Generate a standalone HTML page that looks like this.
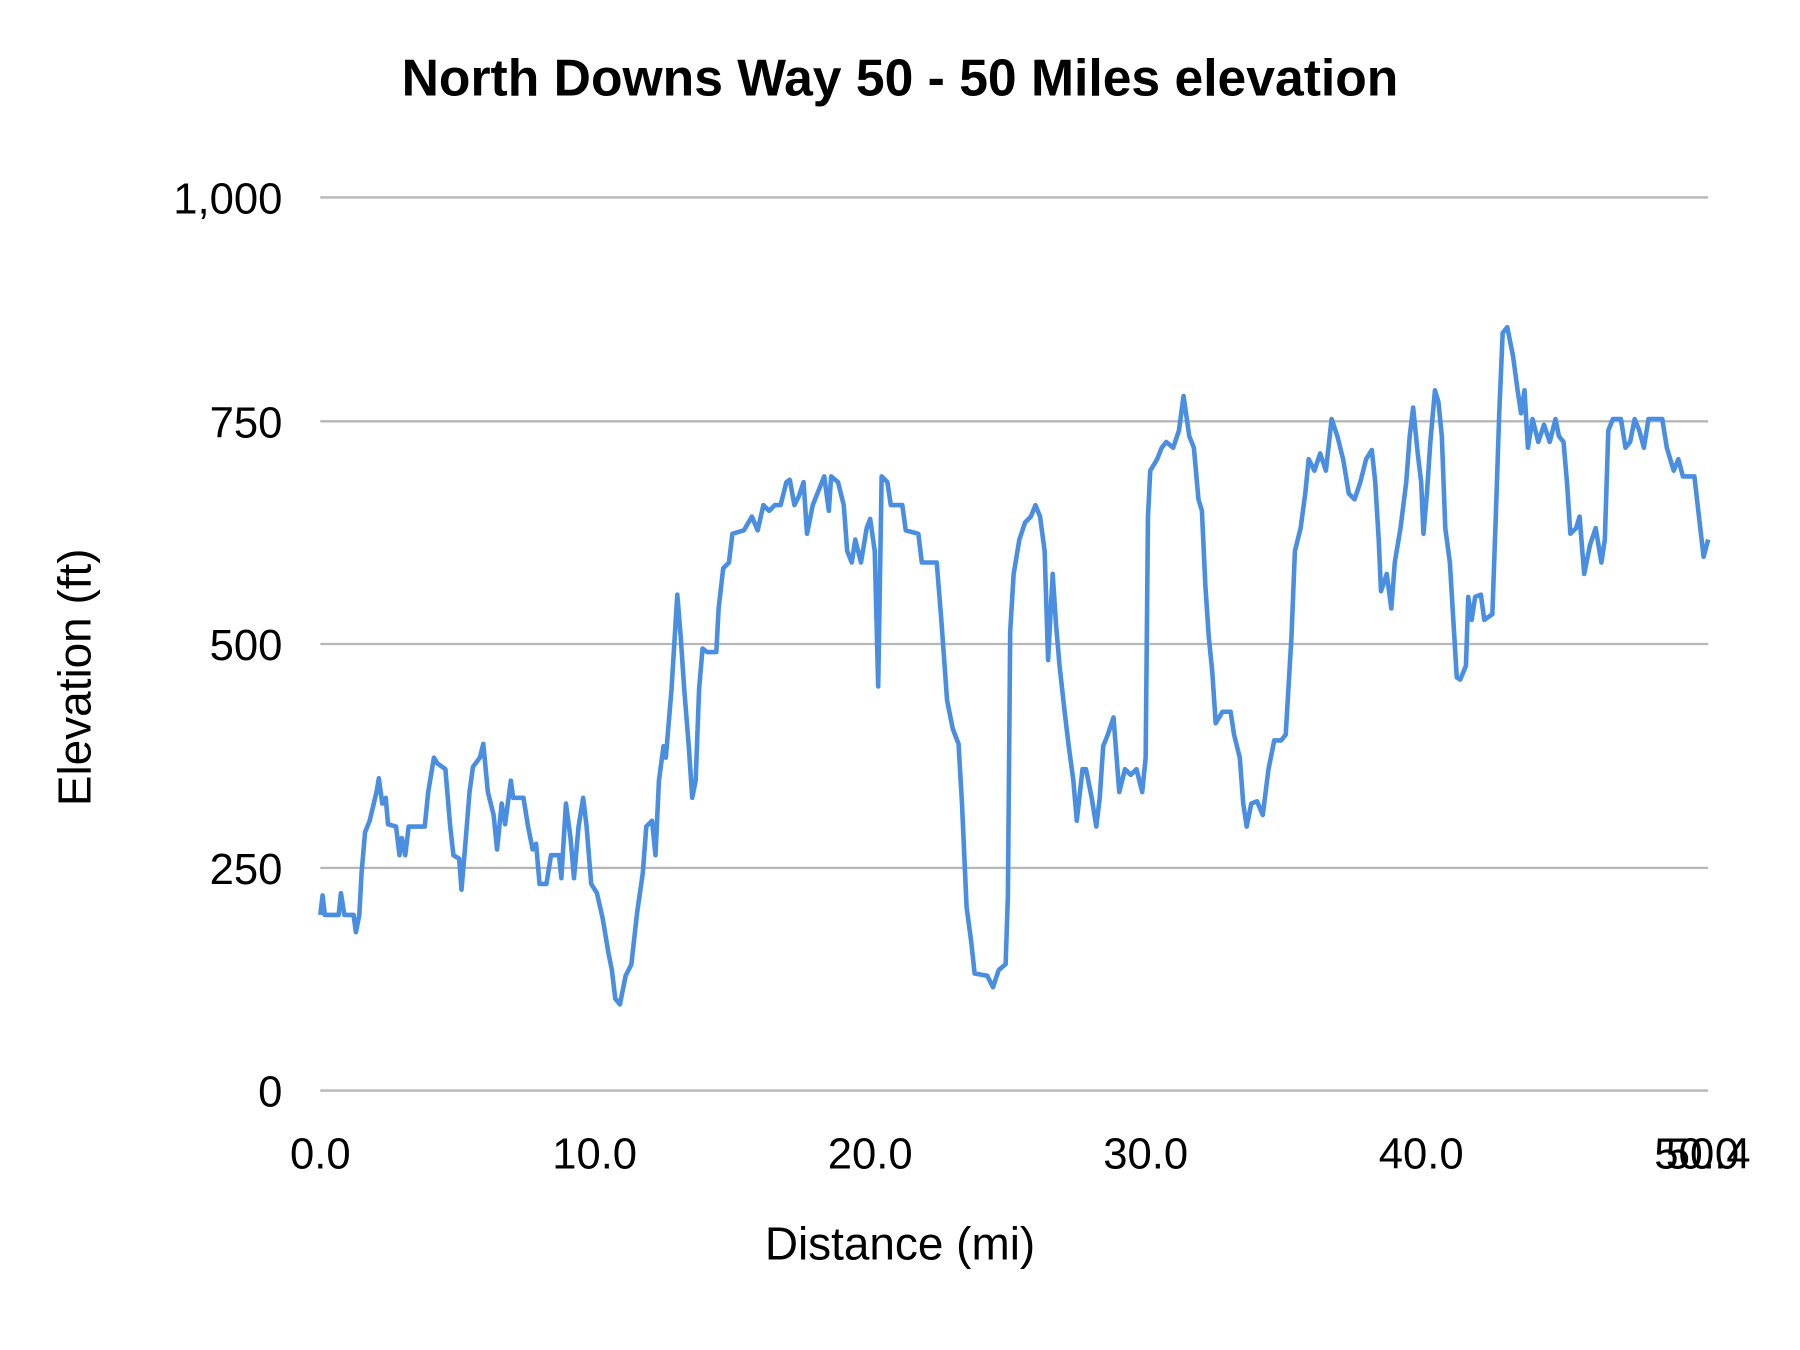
<!DOCTYPE html>
<html><head><meta charset="utf-8"><style>
html,body{margin:0;padding:0;background:#fff;}
svg{display:block;}
text{font-family:"Liberation Sans",sans-serif;fill:#000;}
</style></head><body>
<svg width="1800" height="1350" viewBox="0 0 1568 1176" xmlns="http://www.w3.org/2000/svg">
<rect width="1568" height="1176" fill="#fff"/>
<text x="784" y="83" text-anchor="middle" font-size="45" font-weight="bold">North Downs Way 50 - 50 Miles elevation</text>
<g stroke="#b7b7b7" stroke-width="2">
<line x1="279" y1="172" x2="1488" y2="172"/>
<line x1="279" y1="367" x2="1488" y2="367"/>
<line x1="279" y1="561" x2="1488" y2="561"/>
<line x1="279" y1="756" x2="1488" y2="756"/>
<line x1="279" y1="950" x2="1488" y2="950"/>
</g>
<g font-size="38" text-anchor="end">
<text x="246" y="186">1,000</text>
<text x="246" y="381">750</text>
<text x="246" y="575">500</text>
<text x="246" y="770">250</text>
<text x="246" y="964">0</text>
</g>
<g font-size="38" text-anchor="middle">
<text x="279" y="1018">0.0</text>
<text x="518" y="1018">10.0</text>
<text x="758" y="1018">20.0</text>
<text x="998" y="1018">30.0</text>
<text x="1238" y="1018">40.0</text>
<text x="1478" y="1018">50.0</text>
<text x="1488" y="1018">50.4</text>
</g>
<text x="784" y="1097" text-anchor="middle" font-size="40">Distance (mi)</text>
<text transform="translate(79,590) rotate(-90)" text-anchor="middle" font-size="40">Elevation (ft)</text>
<polyline fill="none" stroke="#4a8ee2" stroke-width="4" stroke-linejoin="round" points="279,797 281,780 283,797 295,797 297,778 300,797 308,797 310,812 313,797 315,760 318,725 322,715 328,690 330,678 333,700 336,695 338,718 345,720 348,745 350,730 353,745 356,720 370,720 373,690 378,660 381,665 388,670 392,718 395,745 400,748 402,775 405,740 409,690 412,668 418,660 421,648 425,690 430,710 433,740 437,700 440,718 445,680 447,695 456,695 460,720 464,740 467,735 470,770 476,770 480,745 487,745 489,765 493,700 497,730 500,765 504,720 508,695 511,720 515,770 520,778 525,800 530,830 533,845 536,870 540,875 545,850 550,840 555,795 560,760 563,720 568,715 571,745 574,680 578,650 580,660 585,600 590,518 593,555 596,600 600,650 603,695 606,680 609,600 612,565 616,568 624,568 626,530 630,495 635,490 638,465 648,462 655,450 660,462 665,440 670,445 675,440 680,440 685,420 688,418 692,440 696,432 700,420 703,465 708,440 712,430 718,415 722,445 724,415 730,420 735,440 738,480 742,490 745,470 750,490 755,460 758,452 762,480 765,598 768,415 773,420 776,440 786,440 789,462 800,465 803,490 816,490 820,540 825,610 830,635 835,648 838,700 842,790 846,820 849,848 860,850 865,860 870,845 876,840 878,780 880,550 883,500 888,470 893,455 898,450 902,440 906,450 910,480 913,575 917,500 920,545 923,580 928,625 931,650 935,680 938,715 943,670 946,670 951,695 955,720 958,695 961,650 965,640 970,625 975,690 980,670 985,675 990,670 995,690 998,660 1000,450 1002,410 1008,400 1012,390 1016,385 1022,390 1027,375 1031,345 1036,380 1040,390 1044,435 1047,445 1050,510 1053,555 1056,585 1059,630 1065,620 1072,620 1075,640 1080,660 1083,700 1086,720 1090,700 1095,698 1100,710 1105,670 1110,645 1116,645 1120,640 1125,555 1128,480 1133,460 1137,430 1140,400 1145,410 1150,395 1155,410 1160,365 1165,380 1170,400 1175,430 1180,435 1185,420 1190,400 1195,392 1198,420 1201,470 1203,515 1208,500 1212,530 1215,490 1220,460 1225,420 1228,380 1231,355 1235,395 1238,420 1240,465 1243,430 1246,385 1250,340 1253,350 1256,380 1259,460 1263,490 1266,540 1269,590 1272,592 1277,580 1279,520 1282,540 1285,520 1290,518 1293,540 1300,535 1303,450 1306,360 1309,290 1313,285 1318,310 1322,340 1325,360 1328,340 1331,390 1335,365 1340,385 1345,370 1350,385 1355,365 1358,380 1362,385 1365,420 1368,465 1373,460 1376,450 1380,500 1385,475 1390,460 1395,490 1398,470 1401,375 1405,365 1412,365 1416,390 1420,385 1424,365 1428,375 1432,390 1436,365 1448,365 1452,390 1458,410 1462,400 1466,415 1476,415 1480,450 1484,485 1488,470"/>
</svg>
</body></html>
